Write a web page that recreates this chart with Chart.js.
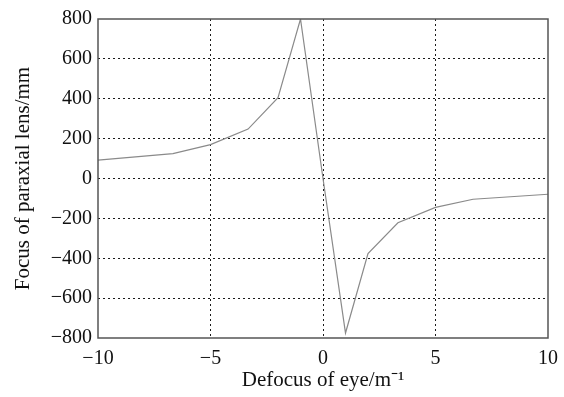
<!DOCTYPE html>
<html>
<head>
<meta charset="utf-8">
<script src="https://cdn.jsdelivr.net/npm/chart.js@4.4.0/dist/chart.umd.min.js"></script>
<style>
  html, body { margin: 0; padding: 0; background: #fff; }
</style>
</head>
<body>
<canvas id="myChart" width="564" height="397"></canvas>
<script>
// defocus of eye (1/m) and focus of paraxial lens (mm)
const defocus = [-10, -6.67, -5, -3.33, -2, -1, 0, 1, 2, 3.33, 5, 6.67, 10]
const focus = [92, 125, 170, 248, 405, 800, 0, -775, -377, -222, -145, -104, -79]
const xTicks = [-10, -5, 0, 5, 10]
const yTicks = [-800, -600, -400, -200, 0, 200, 400, 600, 800]

const serif = '"Liberation Serif", "Times New Roman", serif'
const minus = v => String(v).replace('-', '\u2212')

// grid lines on the frame edges would sit on top of the solid box
const gridColor = ctx => {
    const n = ctx.scale.ticks.length
    return (ctx.index === 0 || ctx.index === n - 1) ? 'rgba(0,0,0,0)' : '#1a1a1a'
}

const boxPlugin = {
    id: 'box',
    afterDraw(chart) {
        const { ctx, chartArea: a } = chart
        ctx.save()
        ctx.strokeStyle = '#555'
        ctx.lineWidth = 1.5
        ctx.strokeRect(a.left, a.top, a.right - a.left, a.bottom - a.top)
        ctx.restore()
    }
}

const ctx = document.getElementById('myChart').getContext('2d')
const myChart = new Chart(ctx, {
    type: 'line',
    data: {
        datasets: [{
            data: defocus.map((x, i) => ({ x: x, y: focus[i] })),
            borderColor: '#8a8a8a',
            borderWidth: 1.2,
            pointRadius: 0,
            tension: 0,
            fill: false
        }]
    },
    options: {
        responsive: false,
        animation: false,
        devicePixelRatio: 1,
        layout: { padding: { left: 0, right: 16, top: 19, bottom: 0 } },
        plugins: {
            legend: { display: false },
            tooltip: { enabled: false }
        },
        scales: {
            x: {
                type: 'linear',
                min: -10,
                max: 10,
                afterBuildTicks: s => { s.ticks = xTicks.map(v => ({ value: v })) },
                afterFit: s => { s.height = 59; s.paddingLeft = 0; s.paddingRight = 0 },
                ticks: {
                    padding: 9,
                    color: '#111',
                    font: { family: serif, size: 20 },
                    maxRotation: 0,
                    callback: v => minus(v)
                },
                grid: { color: gridColor, lineWidth: 1, drawTicks: false },
                border: { display: false, dash: [2, 3] },
                title: {
                    display: true,
                    text: 'Defocus of eye/m\u207B\u00B9',
                    color: '#111',
                    font: { family: serif, size: 21 },
                    padding: { top: 0, bottom: 4 }
                }
            },
            y: {
                min: -800,
                max: 800,
                afterBuildTicks: s => { s.ticks = yTicks.map(v => ({ value: v })) },
                afterFit: s => { s.width = 98 },
                ticks: {
                    padding: 6,
                    color: '#111',
                    font: { family: serif, size: 20 },
                    callback: v => minus(v)
                },
                grid: { color: gridColor, lineWidth: 1, drawTicks: false },
                border: { display: false, dash: [2, 3] },
                title: {
                    display: true,
                    text: 'Focus of paraxial lens/mm',
                    color: '#111',
                    font: { family: serif, size: 21 },
                    padding: { top: 11, bottom: 0 }
                }
            }
        }
    },
    plugins: [boxPlugin]
})
</script>
</body>
</html>
